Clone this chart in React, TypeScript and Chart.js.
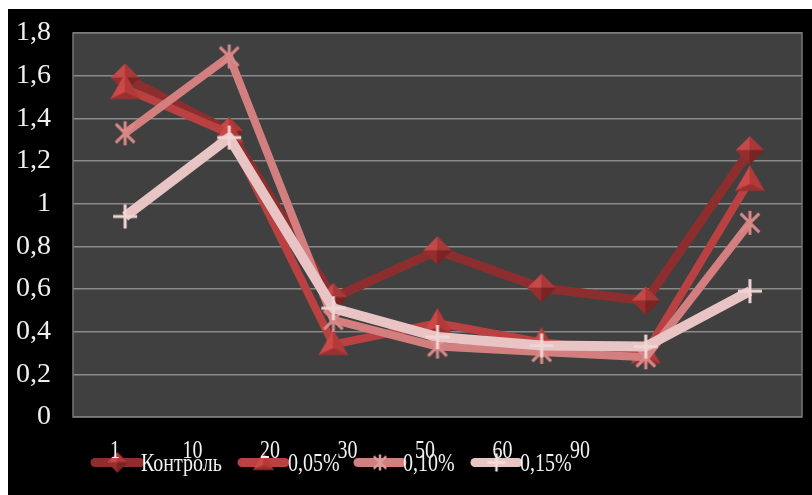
import React, { useEffect, useRef } from "react";
import { Chart, registerables } from "chart.js";

Chart.register(...registerables);

// ---- Data ----
const categories = ["1", "10", "20", "30", "50", "60", "90"];
const seriesNames = ["Контроль", "0,05%", "0,10%", "0,15%"];
const control = [1.59, 1.34, 0.56, 0.78, 0.605, 0.545, 1.25];
const p005 = [1.54, 1.33, 0.34, 0.44, 0.35, 0.3, 1.11];
const p010 = [1.33, 1.69, 0.455, 0.33, 0.305, 0.28, 0.91];
const p015 = [0.94, 1.31, 0.51, 0.375, 0.335, 0.33, 0.59];
const yMin = 0;
const yMax = 1.8;
const yStep = 0.2;

// ---- Styles ----
const lineColors = ["#8c2e2e", "#b94141", "#d37f7f", "#e9c4c4"];
const lineWidths = [9, 8, 8, 10];
const FONT = '"Liberation Serif", "Times New Roman", serif';

function makeCanvas(s: number) {
  const c = document.createElement("canvas");
  c.width = s;
  c.height = s;
  return c;
}

function tri(ctx: CanvasRenderingContext2D, a: number[], b: number[], c: number[], col: string) {
  ctx.beginPath();
  ctx.moveTo(a[0], a[1]);
  ctx.lineTo(b[0], b[1]);
  ctx.lineTo(c[0], c[1]);
  ctx.closePath();
  ctx.fillStyle = col;
  ctx.fill();
  ctx.strokeStyle = col;
  ctx.lineWidth = 0.6;
  ctx.stroke();
}

function diamondImg(r: number) {
  const s = Math.ceil(2 * r + 2);
  const c = makeCanvas(s);
  const ctx = c.getContext("2d")!;
  const cx = s / 2, cy = s / 2;
  const top = [cx, cy - r], right = [cx + r, cy], bottom = [cx, cy + r], left = [cx - r, cy], ctr = [cx, cy];
  tri(ctx, top, left, ctr, "#c44a4a");
  tri(ctx, top, right, ctr, "#a93838");
  tri(ctx, left, bottom, ctr, "#962e2e");
  tri(ctx, right, bottom, ctr, "#7a2424");
  return c;
}

function triangleImg(r: number) {
  const s = Math.ceil(2 * r + 2);
  const c = makeCanvas(s);
  const ctx = c.getContext("2d")!;
  const cx = s / 2, cy = s / 2 + r * 0.1;
  const top = [cx, cy - r], bl = [cx - r * 0.9, cy + r * 0.55], br = [cx + r * 0.9, cy + r * 0.55], ctr = [cx, cy + r * 0.15];
  tri(ctx, top, bl, ctr, "#cf4848");
  tri(ctx, top, br, ctr, "#b43a3a");
  tri(ctx, bl, br, ctr, "#9a3030");
  return c;
}

function asteriskImg(r: number, col: string, lw: number) {
  const s = Math.ceil(2 * r + 4);
  const c = makeCanvas(s);
  const ctx = c.getContext("2d")!;
  const cx = s / 2, cy = s / 2;
  ctx.strokeStyle = col;
  ctx.lineWidth = lw;
  ctx.beginPath();
  ctx.moveTo(cx, cy - r);
  ctx.lineTo(cx, cy + r);
  const d = r * 0.78;
  ctx.moveTo(cx - d, cy - d);
  ctx.lineTo(cx + d, cy + d);
  ctx.moveTo(cx + d, cy - d);
  ctx.lineTo(cx - d, cy + d);
  ctx.stroke();
  return c;
}

function crossImg(r: number, col: string, lw: number) {
  const s = Math.ceil(2 * r + 4);
  const c = makeCanvas(s);
  const ctx = c.getContext("2d")!;
  const cx = s / 2, cy = s / 2;
  ctx.strokeStyle = col;
  ctx.lineWidth = lw;
  ctx.beginPath();
  ctx.moveTo(cx, cy - r);
  ctx.lineTo(cx, cy + r);
  ctx.moveTo(cx - r, cy);
  ctx.lineTo(cx + r, cy);
  ctx.stroke();
  return c;
}

export default function App() {
  const ref = useRef<HTMLCanvasElement | null>(null);

  useEffect(() => {
    if (!ref.current) return;

    const markers = [diamondImg(14), triangleImg(16), asteriskImg(12, "#d98888", 3), crossImg(12, "#f2d6d6", 3)];
    const legendMarkers = [diamondImg(10), triangleImg(11), asteriskImg(8, "#e09a9a", 2.5), crossImg(9, "#f5dede", 2.5)];

    const bgPlugin = {
      id: "bg",
      beforeDraw(chart: any) {
        const { ctx, chartArea: a, width, height } = chart;
        ctx.save();
        ctx.fillStyle = "#000000";
        ctx.fillRect(0, 0, width, height);
        ctx.fillStyle = "#404040";
        ctx.fillRect(a.left, a.top, a.right - a.left, a.bottom - a.top);
        ctx.restore();
      },
      beforeDatasetsDraw(chart: any) {
        const { ctx, chartArea: a } = chart;
        ctx.save();
        ctx.strokeStyle = "#767676";
        ctx.lineWidth = 1.5;
        ctx.strokeRect(a.left, a.top, a.right - a.left, a.bottom - a.top);
        ctx.restore();
      },
    };

    const textPlugin = {
      id: "texts",
      afterDraw(chart: any) {
        const { ctx, chartArea: a } = chart;
        ctx.save();
        // legend
        const lx0 = [87, 234, 350, 467];
        const lx1 = [132, 277, 394, 510];
        const tx = [133, 280, 395, 512];
        const ly = 453.5;
        seriesNames.forEach((name, i) => {
          ctx.strokeStyle = lineColors[i];
          ctx.lineWidth = 9;
          ctx.lineCap = "round";
          ctx.beginPath();
          ctx.moveTo(lx0[i], ly);
          ctx.lineTo(lx1[i], ly);
          ctx.stroke();
          const m = legendMarkers[i];
          const mx = (lx0[i] + lx1[i]) / 2;
          ctx.drawImage(m, mx - m.width / 2, ly - m.height / 2);
          ctx.save();
          ctx.translate(tx[i], 462);
          ctx.scale(0.8, 1);
          ctx.fillStyle = "#f2f2f2";
          ctx.font = `25px ${FONT}`;
          ctx.textAlign = "left";
          ctx.textBaseline = "alphabetic";
          ctx.fillText(name, 0, 0);
          ctx.restore();
        });
        // x labels
        categories.forEach((lab, i) => {
          const x = a.left + 42 + i * 77.5;
          ctx.save();
          ctx.translate(x, 449);
          ctx.scale(0.8, 1);
          ctx.fillStyle = "#f2f2f2";
          ctx.font = `25px ${FONT}`;
          ctx.textAlign = "center";
          ctx.textBaseline = "alphabetic";
          ctx.fillText(lab, 0, 0);
          ctx.restore();
        });
        ctx.restore();
      },
    };

    const seriesData = [control, p005, p010, p015];
    const chart = new Chart(ref.current, {
      type: "line",
      data: {
        labels: categories,
        datasets: seriesData.map((d, i) => ({
          label: seriesNames[i],
          data: d,
          borderColor: lineColors[i],
          backgroundColor: lineColors[i],
          borderWidth: lineWidths[i],
          pointStyle: markers[i] as any,
          pointRadius: 12,
          pointHoverRadius: 12,
          tension: 0,
          fill: false,
          clip: false as any,
          order: 4 - i,
          borderJoinStyle: "round" as any,
        })),
      },
      options: {
        responsive: false,
        animation: false,
        devicePixelRatio: 1,
        layout: { autoPadding: false, padding: { top: 24, right: 10, bottom: 78, left: 0 } },
        plugins: { legend: { display: false }, tooltip: { enabled: false } },
        scales: {
          x: {
            type: "category",
            offset: true,
            display: false,
          },
          y: {
            min: yMin,
            max: yMax,
            afterFit(scale: any) {
              scale.width = 65;
              scale.paddingTop = 0;
              scale.paddingBottom = 0;
            },
            ticks: {
              stepSize: yStep,
              padding: 22,
              color: "#f0f0f0",
              font: { family: FONT, size: 28 },
              callback: (v: any) => {
                const n = Math.round(Number(v) * 10) / 10;
                return String(n).replace(".", ",");
              },
            },
            grid: { color: "#8a8a8a", lineWidth: 1.5, drawTicks: false },
            border: { display: false },
          },
        },
      },
      plugins: [bgPlugin, textPlugin],
    });
    return () => chart.destroy();
  }, []);

  return (
    <div style={{ position: "fixed", left: 8, top: 9, width: 804, height: 486, background: "#000" }}>
      <canvas ref={ref} width={804} height={486} style={{ display: "block", width: 804, height: 486 }} />
    </div>
  );
}
